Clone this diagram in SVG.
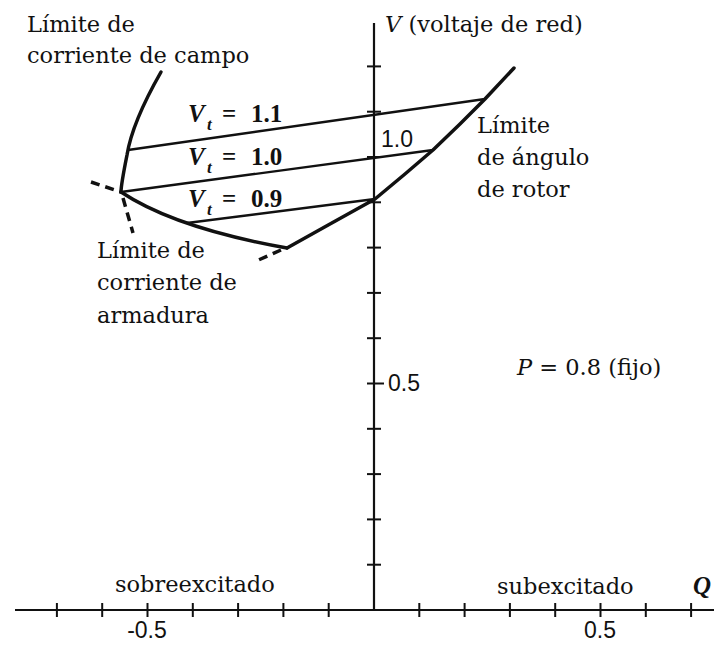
<svg xmlns="http://www.w3.org/2000/svg" width="714" height="645" viewBox="0 0 714 645">
<style>
.ax{stroke:#111;stroke-width:2.2;fill:none}
.tk{stroke:#111;stroke-width:2;fill:none}
.lim{stroke:#111;stroke-width:3.5;fill:none;stroke-linejoin:round;stroke-linecap:round}
.dash{stroke:#111;stroke-width:3.5;fill:none;stroke-dasharray:9 6}
.vt{stroke:#111;stroke-width:2.4;fill:none}
.lbl{font-family:"DejaVu Serif","Liberation Serif",serif;font-size:22.5px;fill:#111}
.num{font-family:"Liberation Sans",Arial,sans-serif;font-size:23px;fill:#111}
.eq{font-family:"Liberation Serif","Times New Roman",serif;font-size:25px;font-weight:bold;fill:#111}
</style>
<rect width="714" height="645" fill="#fff"/>
<g id="axes">
<line class="ax" x1="15" y1="610" x2="714" y2="610"/>
<line class="ax" x1="374" y1="23" x2="374" y2="610"/>
<g id="xticks" class="tk">
<line x1="56.9" y1="603" x2="56.9" y2="617"/><line x1="102.2" y1="603" x2="102.2" y2="617"/><line x1="147.5" y1="603" x2="147.5" y2="617"/><line x1="192.8" y1="603" x2="192.8" y2="617"/><line x1="238.1" y1="603" x2="238.1" y2="617"/><line x1="283.4" y1="603" x2="283.4" y2="617"/><line x1="328.7" y1="603" x2="328.7" y2="617"/>
<line x1="419.3" y1="603" x2="419.3" y2="617"/><line x1="464.6" y1="603" x2="464.6" y2="617"/><line x1="509.9" y1="603" x2="509.9" y2="617"/><line x1="555.2" y1="603" x2="555.2" y2="617"/><line x1="600.5" y1="603" x2="600.5" y2="617"/><line x1="645.8" y1="603" x2="645.8" y2="617"/><line x1="691.1" y1="603" x2="691.1" y2="617"/>
</g>
<g id="yticks" class="tk">
<line x1="367" y1="564.7" x2="381" y2="564.7"/><line x1="367" y1="519.4" x2="381" y2="519.4"/><line x1="367" y1="474.1" x2="381" y2="474.1"/><line x1="367" y1="428.8" x2="381" y2="428.8"/><line x1="367" y1="383.5" x2="384" y2="383.5"/><line x1="367" y1="338.2" x2="381" y2="338.2"/><line x1="367" y1="292.9" x2="381" y2="292.9"/><line x1="367" y1="247.6" x2="381" y2="247.6"/><line x1="367" y1="202.3" x2="381" y2="202.3"/><line x1="367" y1="157" x2="381" y2="157"/><line x1="367" y1="111.7" x2="381" y2="111.7"/><line x1="367" y1="66.4" x2="381" y2="66.4"/>
</g>
<text class="num" x="147" y="638" text-anchor="middle">-0.5</text>
<text class="num" x="600" y="638" text-anchor="middle">0.5</text>
<text class="num" x="388" y="391">0.5</text>
<text class="num" x="381" y="147">1.0</text>
<text class="lbl" x="385" y="32"><tspan font-style="italic">V</tspan> (voltaje de red)</text>
<text x="693" y="594" font-family="Liberation Serif,serif" font-size="25" font-weight="bold" font-style="italic" fill="#111">Q</text>
</g>
<g id="limits">
<path id="field-limit" class="lim" d="M161,72 C145,100 131,130 127,155 C123,175 121,185 121,192"/>
<path id="armature-limit" class="lim" d="M121,192 Q175,228 287,248"/>
<path id="rotor-limit" class="lim" d="M287,248 L330,224 L375,199 L405,174 L433,150 L460,124 L485,99 L514,68"/>
<line class="dash" x1="91" y1="182" x2="121" y2="192"/>
<line class="dash" x1="123" y1="198" x2="133" y2="233"/>
<line class="dash" x1="281" y1="250" x2="254" y2="262"/>
</g>
<g id="vt-lines">
<line class="vt" x1="128" y1="150" x2="485" y2="99"/>
<line class="vt" x1="121" y1="192" x2="433" y2="150"/>
<line class="vt" x1="187" y1="223" x2="375" y2="199"/>
<text class="eq" x="188" y="122"><tspan font-style="italic">V</tspan><tspan font-style="italic" font-size="17" x="207" y="130">t</tspan><tspan x="222" y="122">=</tspan><tspan x="251">1.1</tspan></text>
<text class="eq" x="188" y="165"><tspan font-style="italic">V</tspan><tspan font-style="italic" font-size="17" x="207" y="173">t</tspan><tspan x="222" y="165">=</tspan><tspan x="251">1.0</tspan></text>
<text class="eq" x="188" y="207"><tspan font-style="italic">V</tspan><tspan font-style="italic" font-size="17" x="207" y="215">t</tspan><tspan x="222" y="207">=</tspan><tspan x="251">0.9</tspan></text>
</g>
<g id="labels">
<text class="lbl" x="27" y="32">Límite de</text>
<text class="lbl" x="27" y="63">corriente de campo</text>
<text class="lbl" x="477" y="133">Límite</text>
<text class="lbl" x="477" y="165">de ángulo</text>
<text class="lbl" x="477" y="197">de rotor</text>
<text class="lbl" x="97" y="258">Límite de</text>
<text class="lbl" x="97" y="290">corriente de</text>
<text class="lbl" x="97" y="323">armadura</text>
<text class="lbl" x="517" y="375"><tspan font-style="italic">P</tspan> = 0.8 (fijo)</text>
<text class="lbl" x="115" y="592">sobreexcitado</text>
<text class="lbl" x="497" y="594">subexcitado</text>
</g>
</svg>
